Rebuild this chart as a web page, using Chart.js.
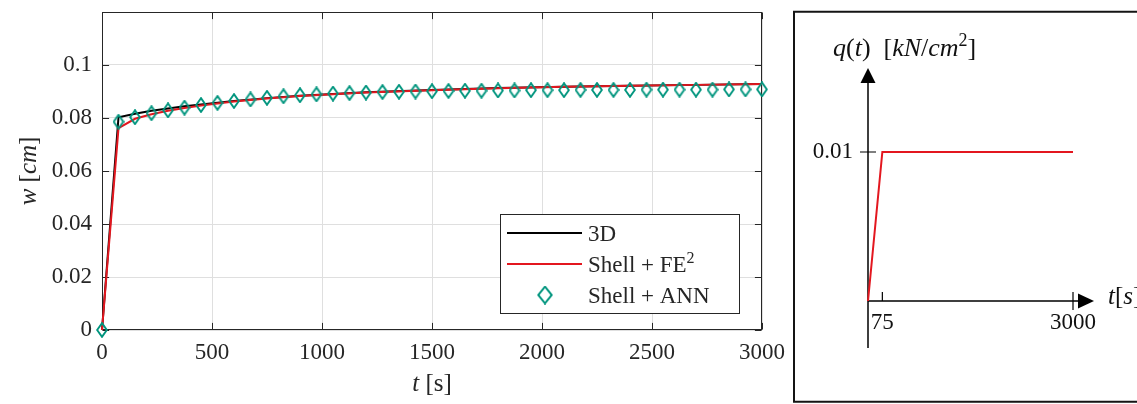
<!DOCTYPE html>
<html><head><meta charset="utf-8">
<script src="https://cdn.jsdelivr.net/npm/chart.js@4.4.1/dist/chart.umd.min.js"></script>
<style>
html,body{margin:0;padding:0;background:#fff;width:1137px;height:404px;overflow:hidden}
#main{position:absolute;left:0;top:0}
#inset{position:absolute;left:793px;top:0}
</style></head><body>
<canvas id="main" width="790" height="404"></canvas>
<canvas id="inset" width="344" height="404"></canvas>
<script>
// ---------- data ----------
const tLine = [0, 75, 150, 225, 300, 375, 450, 525, 600, 750, 900, 1050, 1200, 1500, 1800, 2100, 2400, 2700, 3000];
const w3D   = [0, 0.0803, 0.0816, 0.0827, 0.0836, 0.0844, 0.0851, 0.0858, 0.0864, 0.0875, 0.0884, 0.0891, 0.0897, 0.0906, 0.0913, 0.0918, 0.0922, 0.0925, 0.0928];
const wFE2  = [0, 0.0762, 0.0797, 0.0814, 0.0827, 0.0838, 0.0847, 0.0855, 0.0862, 0.0874, 0.0883, 0.0890, 0.0896, 0.0905, 0.0912, 0.0918, 0.0922, 0.0925, 0.0928];
const tANN  = [0, 75, 150, 225, 300, 375, 450, 525, 600, 675, 750, 825, 900, 975, 1050, 1125, 1200, 1275, 1350, 1425, 1500,
               1575, 1650, 1725, 1800, 1875, 1950, 2025, 2100, 2175, 2250, 2325, 2400, 2475, 2550, 2625, 2700, 2775, 2850, 2925, 3000];
const wANN  = [0, 0.0786, 0.0803, 0.0818, 0.0829, 0.0839, 0.0849, 0.0857, 0.0864, 0.0870, 0.0876, 0.0882, 0.0886, 0.0889, 0.0892, 0.0894, 0.0896, 0.0898, 0.0899, 0.0900, 0.0901,
               0.0902, 0.0903, 0.0903, 0.0904, 0.0904, 0.0905, 0.0905, 0.0905, 0.0906, 0.0906, 0.0906, 0.0906, 0.0907, 0.0907, 0.0907, 0.0907, 0.0907, 0.0908, 0.0908, 0.0908];
const seriesLabels = ['3D', 'Shell + FE²', 'Shell + ANN'];
const xTicks = [0, 500, 1000, 1500, 2000, 2500, 3000];
const yTicks = [0, 0.02, 0.04, 0.06, 0.08, 0.1];
const xRange = [0, 3000];
const yRange = [0, 0.12];

// load function (inset)
const loadT = [0, 75, 3000];
const loadQ = [0, 0.01, 0.01];
const loadTTicks = [75, 3000];
const loadQTicks = [0.01];

// ---------- styles ----------
const FONT = "'Liberation Serif','Times New Roman',serif";
const AX = '#262626';
const GRID = '#dfdfdf';
const RED = '#e3171f';
const TEAL = '#00957e';

function diamondImg(w, h, lw) {
  const c = document.createElement('canvas');
  c.width = w; c.height = h;
  const g = c.getContext('2d');
  g.strokeStyle = TEAL; g.lineWidth = lw; g.lineJoin = 'miter';
  const m = lw / 2 + 0.2;
  g.beginPath();
  g.moveTo(w / 2, m); g.lineTo(w - m, h / 2); g.lineTo(w / 2, h - m); g.lineTo(m, h / 2);
  g.closePath(); g.stroke();
  return c;
}
const plotDiamond = diamondImg(12, 16, 1.9);
const legendDiamond = diamondImg(16, 19, 2);

function drawSegments(ctx, segs, x, y, size, align) {
  // segs: [text, italic, superscript]
  const widths = segs.map(s => {
    ctx.font = (s[1] ? 'italic ' : '') + (s[2] ? Math.round(size * 0.68) : size) + 'px ' + FONT;
    return ctx.measureText(s[0]).width;
  });
  const total = widths.reduce((a, b) => a + b, 0);
  let cx = align === 'center' ? x - total / 2 : x;
  segs.forEach((s, i) => {
    ctx.font = (s[1] ? 'italic ' : '') + (s[2] ? Math.round(size * 0.68) : size) + 'px ' + FONT;
    ctx.fillText(s[0], cx, s[2] ? y - size * 0.38 : y);
    cx += widths[i];
  });
}

// ---------- main chart ----------
const mainDecor = {
  id: 'mainDecor',
  beforeDatasetsDraw(chart) {
    const {ctx, chartArea: a, scales: {x, y}} = chart;
    ctx.save();
    ctx.strokeStyle = AX; ctx.lineWidth = 1;
    const L = Math.round(a.left) + 0.5, R = Math.round(a.right) - 0.5, T = Math.round(a.top) + 0.5, B = Math.round(a.bottom) - 0.5;
    ctx.strokeRect(L, T, R - L, B - T);
    const tl = 6.6;
    ctx.beginPath();
    xTicks.forEach(v => {
      const p = Math.round(x.getPixelForValue(v)) + 0.5;
      ctx.moveTo(p, B); ctx.lineTo(p, B - tl);
      ctx.moveTo(p, T); ctx.lineTo(p, T + tl);
    });
    yTicks.forEach(v => {
      const p = Math.round(y.getPixelForValue(v)) + 0.5;
      ctx.moveTo(L, p); ctx.lineTo(L + tl, p);
      ctx.moveTo(R, p); ctx.lineTo(R - tl, p);
    });
    ctx.stroke();
    ctx.restore();
  },
  afterDraw(chart) {
    const {ctx, chartArea: a} = chart;
    ctx.save();
    ctx.fillStyle = AX;
    ctx.textBaseline = 'alphabetic';
    drawSegments(ctx, [['t', true], [' [s]', false]], (a.left + a.right) / 2, 391, 25, 'center');
    ctx.translate(36, (a.top + a.bottom) / 2);
    ctx.rotate(-Math.PI / 2);
    drawSegments(ctx, [['w', true], [' [', false], ['cm', true], [']', false]], 0, 0, 25, 'center');
    ctx.restore();

    // legend
    ctx.save();
    const bx = 500.5, by = 214.5, bw = 239, bh = 99;
    ctx.fillStyle = '#fff';
    ctx.fillRect(bx, by, bw, bh);
    ctx.strokeStyle = AX; ctx.lineWidth = 1;
    ctx.strokeRect(bx, by, bw, bh);
    const rows = [233, 264, 295];
    const ds = chart.data.datasets;
    ctx.lineWidth = 2; ctx.strokeStyle = ds[0].borderColor;
    ctx.beginPath(); ctx.moveTo(507, rows[0]); ctx.lineTo(582, rows[0]); ctx.stroke();
    ctx.lineWidth = 1.8; ctx.strokeStyle = ds[1].borderColor;
    ctx.beginPath(); ctx.moveTo(507, rows[1]); ctx.lineTo(582, rows[1]); ctx.stroke();
    ctx.drawImage(legendDiamond, 545 - legendDiamond.width / 2, rows[2] - legendDiamond.height / 2);
    ctx.fillStyle = AX;
    ds.forEach((d, i) => {
      const lab = d.label;
      const segs = lab.endsWith('²') ? [[lab.slice(0, -1), false], ['2', false, true]] : [[lab, false]];
      drawSegments(ctx, segs, 588, rows[i] + 8, 23, 'left');
    });
    ctx.restore();
  }
};

new Chart(document.getElementById('main'), {
  type: 'line',
  data: {
    datasets: [
      {label: seriesLabels[0], data: tLine.map((t, i) => ({x: t, y: w3D[i]})), borderColor: '#000', borderWidth: 2, pointRadius: 0, order: 3, clip: false},
      {label: seriesLabels[1], data: tLine.map((t, i) => ({x: t, y: wFE2[i]})), borderColor: RED, borderWidth: 2, pointRadius: 0, order: 2, clip: false},
      {label: seriesLabels[2], data: tANN.map((t, i) => ({x: t, y: wANN[i]})), showLine: false, borderColor: TEAL, pointStyle: plotDiamond, pointRadius: 5, order: 1, clip: false}
    ]
  },
  options: {
    responsive: false, animation: false, events: [],
    layout: {padding: {top: 12, right: 28, left: 0, bottom: 0}},
    plugins: {legend: {display: false}, tooltip: {enabled: false}},
    scales: {
      x: {
        type: 'linear', min: xRange[0], max: xRange[1],
        afterBuildTicks: s => { s.ticks = xTicks.map(v => ({value: v})); },
        afterFit: s => { s.height = 74; s.paddingLeft = 0; s.paddingRight = 0; },
        grid: {color: GRID, lineWidth: 1, drawTicks: false},
        border: {display: false},
        ticks: {font: {family: FONT, size: 23}, color: AX, padding: 9, maxRotation: 0, autoSkip: false,
                callback: v => String(v)}
      },
      y: {
        type: 'linear', min: yRange[0], max: yRange[1],
        afterBuildTicks: s => { s.ticks = yTicks.map(v => ({value: v})); },
        afterFit: s => { s.width = 102; s.paddingTop = 0; s.paddingBottom = 0; },
        grid: {color: GRID, lineWidth: 1, drawTicks: false},
        border: {display: false},
        ticks: {font: {family: FONT, size: 23}, color: AX, padding: 10, autoSkip: false,
                callback: v => String(Number(v.toFixed(4)))}
      }
    }
  },
  plugins: [mainDecor]
});

// ---------- inset (schematic load function) ----------
const BREAK_FRAC = 0.07;
class SchematicScale extends Chart.LinearScale {
  getPixelForValue(value) {
    const lo = this.min, hi = this.max, b = loadT[1];
    const frac = value <= b ? (value - lo) / (b - lo) * BREAK_FRAC
                            : BREAK_FRAC + (value - b) / (hi - b) * (1 - BREAK_FRAC);
    return this.getPixelForDecimal(frac);
  }
}
SchematicScale.id = 'schematic';
SchematicScale.defaults = Chart.LinearScale.defaults;
Chart.register(SchematicScale);

const insetDecor = {
  id: 'insetDecor',
  beforeDatasetsDraw(chart) {
    const {ctx, scales: {x, y}} = chart;
    const W = chart.width;
    ctx.save();
    ctx.strokeStyle = '#141414'; ctx.lineWidth = 2;
    ctx.beginPath();
    ctx.moveTo(W, 11.7); ctx.lineTo(1, 11.7); ctx.lineTo(1, 401.7); ctx.lineTo(W, 401.7);
    ctx.stroke();
    const x0 = x.getPixelForValue(0), y0 = y.getPixelForValue(0);
    ctx.strokeStyle = '#000'; ctx.fillStyle = '#000'; ctx.lineWidth = 1.5;
    ctx.beginPath();
    ctx.moveTo(x0, y0 + 47); ctx.lineTo(x0, 80);
    ctx.moveTo(x0, y0); ctx.lineTo(x0 + 212, y0);
    ctx.stroke();
    ctx.beginPath();
    ctx.moveTo(x0, 68); ctx.lineTo(x0 + 7.5, 83); ctx.lineTo(x0 - 7.5, 83); ctx.closePath(); ctx.fill();
    ctx.beginPath();
    ctx.moveTo(x0 + 226, y0); ctx.lineTo(x0 + 210, y0 - 7.5); ctx.lineTo(x0 + 210, y0 + 7.5); ctx.closePath(); ctx.fill();
    ctx.lineWidth = 1.2;
    ctx.beginPath();
    loadQTicks.forEach(v => { const p = y.getPixelForValue(v); ctx.moveTo(x0 - 8, p); ctx.lineTo(x0 + 8, p); });
    loadTTicks.forEach((v, i) => {
      const p = x.getPixelForValue(v);
      ctx.moveTo(p, y0 - 9); ctx.lineTo(p, i === loadTTicks.length - 1 ? y0 + 9 : y0);
    });
    ctx.stroke();
    ctx.restore();
  },
  afterDraw(chart) {
    const {ctx, scales: {x, y}} = chart;
    const x0 = x.getPixelForValue(0), y0 = y.getPixelForValue(0);
    ctx.save();
    ctx.fillStyle = '#111';
    ctx.textBaseline = 'middle';
    ctx.font = '23px ' + FONT;
    ctx.textAlign = 'right';
    loadQTicks.forEach(v => ctx.fillText(String(v), x0 - 15, y.getPixelForValue(v)));
    ctx.textAlign = 'center';
    loadTTicks.forEach(v => ctx.fillText(String(v), x.getPixelForValue(v), y0 + 22));
    ctx.textAlign = 'left';
    ctx.textBaseline = 'alphabetic';
    drawSegments(ctx, [['q', true], ['(', false], ['t', true], [')  [', false], ['kN', true], ['/', false], ['cm', true], ['2', false, true], [']', false]], 40, 56, 26, 'left');
    drawSegments(ctx, [['t', true], ['[', false], ['s', true], [']', false]], 315, y0 + 3, 25, 'left');
    ctx.restore();
  }
};

new Chart(document.getElementById('inset'), {
  type: 'line',
  data: {
    datasets: [{label: 'q(t)', data: loadT.map((t, i) => ({x: t, y: loadQ[i]})), borderColor: RED, borderWidth: 2, pointRadius: 0, clip: false}]
  },
  options: {
    responsive: false, animation: false, events: [],
    layout: {padding: {left: 75, right: 64, top: 152, bottom: 103}},
    plugins: {legend: {display: false}, tooltip: {enabled: false}},
    scales: {
      x: {type: 'schematic', min: 0, max: 3000, display: false},
      y: {type: 'linear', min: 0, max: 0.01, display: false}
    }
  },
  plugins: [insetDecor]
});
</script>
</body></html>
